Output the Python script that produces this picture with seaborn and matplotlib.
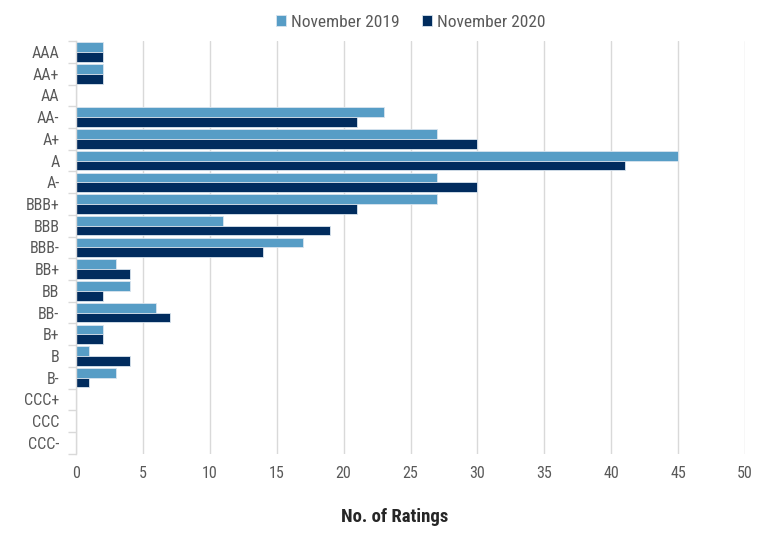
import matplotlib
matplotlib.use("Agg")
import matplotlib.pyplot as plt
import seaborn as sns
import pandas as pd
import numpy as np
from matplotlib.ticker import FixedLocator

categories = ["AAA", "AA+", "AA", "AA-", "A+", "A", "A-", "BBB+", "BBB", "BBB-",
              "BB+", "BB", "BB-", "B+", "B", "B-", "CCC+", "CCC", "CCC-"]
nov2019 = [2, 2, 0, 23, 27, 45, 27, 27, 11, 17, 3, 4, 6, 2, 1, 3, 0, 0, 0]
nov2020 = [2, 2, 0, 21, 30, 41, 30, 21, 19, 14, 4, 2, 7, 2, 4, 1, 0, 0, 0]
series_names = ["November 2019", "November 2020"]
xticks = [0, 5, 10, 15, 20, 25, 30, 35, 40, 45, 50]

df = pd.DataFrame({
    "Rating": categories * 2,
    "Count": nov2019 + nov2020,
    "Series": [series_names[0]] * len(categories) + [series_names[1]] * len(categories),
})

sns.set_theme(style="white")
plt.rcParams['font.family'] = ['Roboto Condensed', 'DejaVu Sans']

fig = plt.figure(figsize=(7.76, 5.35), dpi=100)
ax = fig.add_axes([0.098, 0.152, 0.862, 0.771])

palette = {series_names[0]: "#579DC6", series_names[1]: "#012C5E"}
sns.barplot(data=df, y="Rating", x="Count", hue="Series", order=categories,
            hue_order=series_names, palette=palette, orient="h", width=0.9,
            gap=0, edgecolor="#D9E4EE", linewidth=0.6, saturation=1, ax=ax)

ax.set_xlim(0, 50)
ax.set_ylim(len(categories) - 0.5, -0.5)
ax.set_xticks(xticks)
ax.xaxis.grid(True, color="#D9D9D9", linewidth=1)
ax.set_axisbelow(True)
for s in ["top", "right", "bottom"]:
    ax.spines[s].set_visible(False)
ax.spines["left"].set_color("#D9D9D9")
ax.spines["left"].set_linewidth(1)

ax.tick_params(axis="x", length=0, labelsize=11.5, labelcolor="#595959", pad=9)
ax.tick_params(axis="y", which="major", left=False, length=0, labelsize=11.5,
               labelcolor="#595959", pad=12)
ax.yaxis.set_minor_locator(FixedLocator(np.arange(-0.5, len(categories) + 0.5, 1)))
ax.tick_params(axis="y", which="minor", left=True, length=6, color="#D9D9D9", width=1)

ax.set_ylabel("")
ax.set_xlabel("No. of Ratings", fontsize=13.5, fontweight="bold", color="#262626")
ax.xaxis.set_label_coords(0.477, -0.131)

leg = ax.legend(loc="lower center", bbox_to_anchor=(0.5, 1.0), ncol=2, frameon=False,
                fontsize=12.5, handlelength=0.6, handleheight=0.6, handletextpad=0.25,
                columnspacing=1.3, borderaxespad=0.25)
for t in leg.get_texts():
    t.set_color("#595959")

fig.savefig("out.png", dpi=100)
